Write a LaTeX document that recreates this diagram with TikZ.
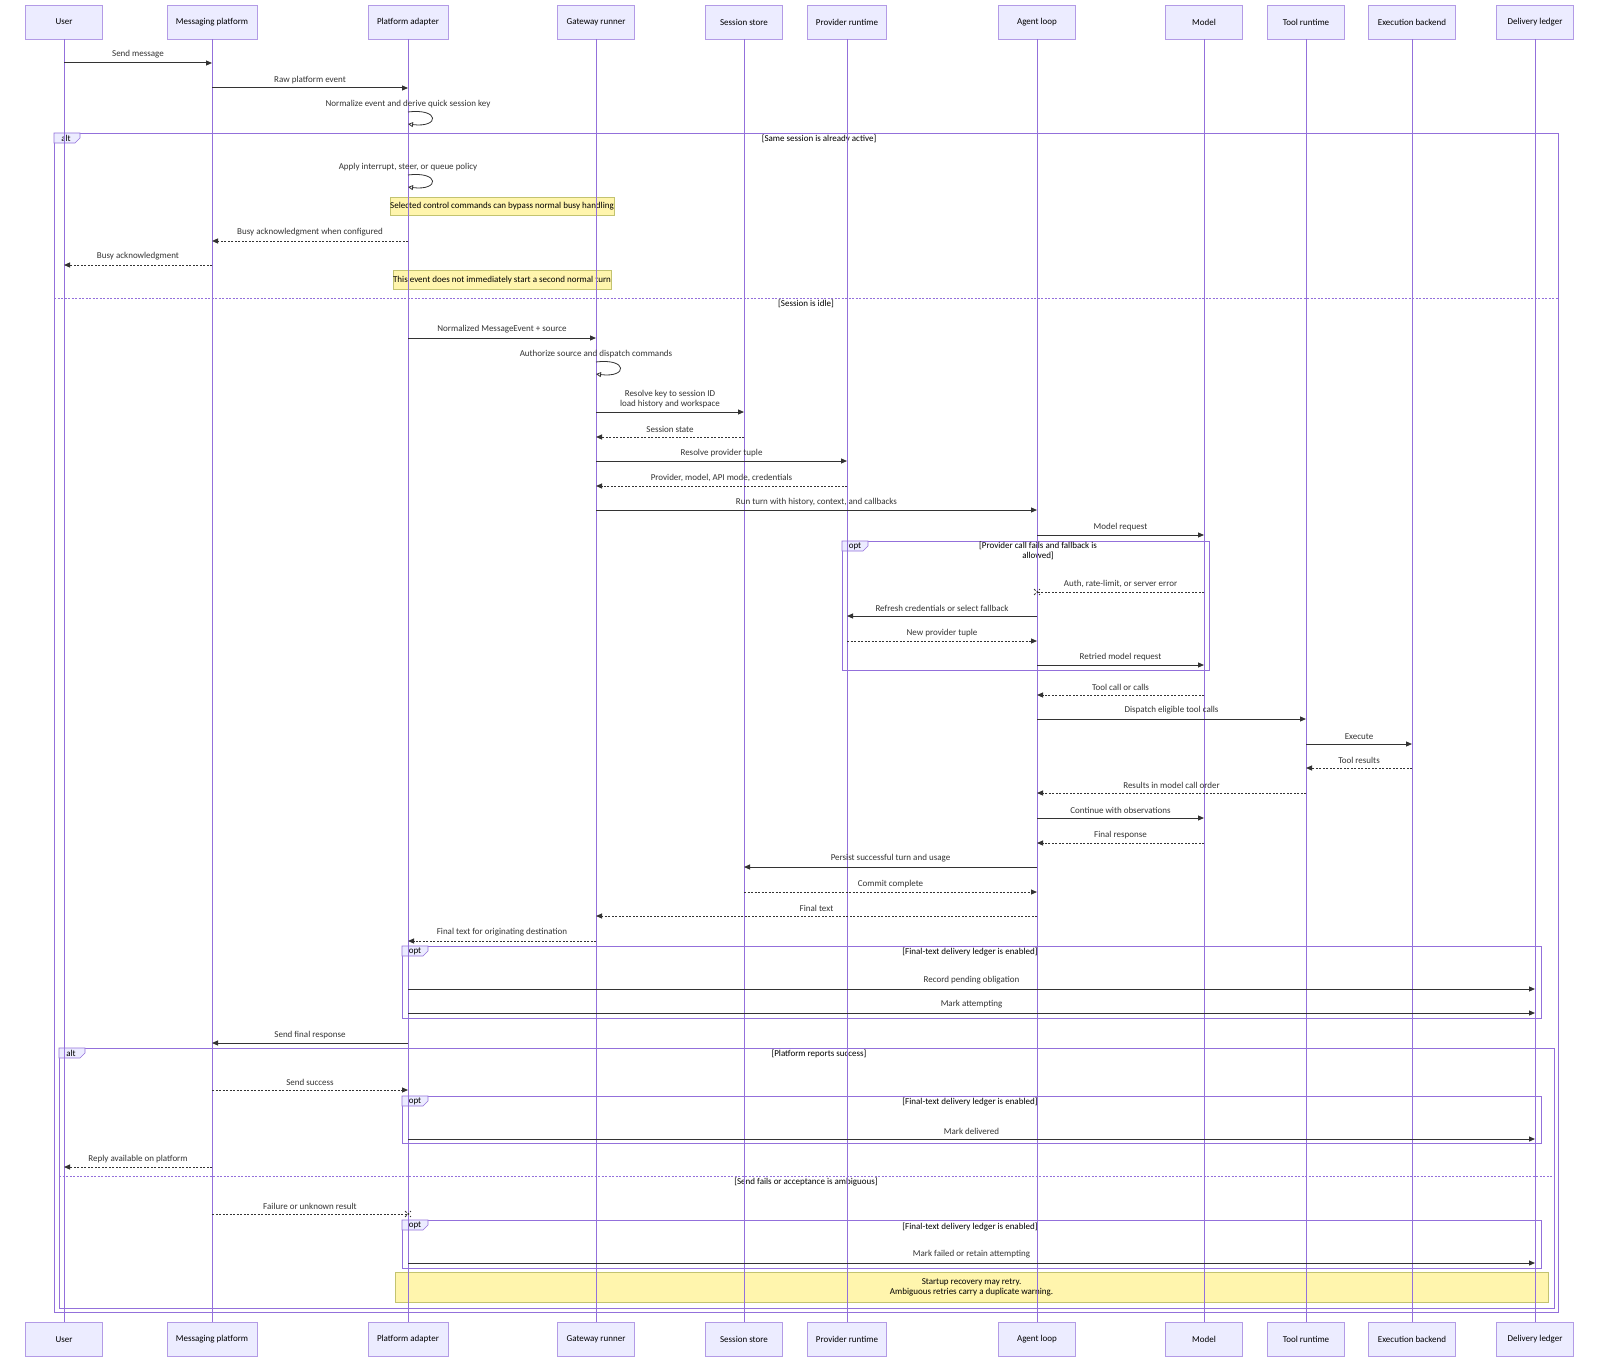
\documentclass[tikz,border=0pt]{standalone}
\usepackage{fontspec}
\setmainfont{Carlito}
\usetikzlibrary{arrows.meta,shapes.misc}
\definecolor{lifeclr}{HTML}{9370DB}
\definecolor{actfill}{HTML}{ECECFF}
\definecolor{notefill}{HTML}{FFF5AD}
\definecolor{notedraw}{HTML}{AAAA33}
\definecolor{msgclr}{HTML}{333333}

\begin{document}
\begin{tikzpicture}[x=1pt,y=-1pt,
    actor/.style={draw=lifeclr!70, fill=actfill, minimum height=34pt, inner sep=0pt, font=\fontsize{9}{10}\selectfont},
    life/.style={draw=lifeclr, line width=0.9pt},
    msg/.style={draw=msgclr, line width=1pt, -{Triangle[length=6pt,width=5pt]}},
    rep/.style={msg, dash pattern=on 2pt off 1.5pt},
    repx/.style={draw=msgclr, line width=1pt, dash pattern=on 2pt off 1.5pt},
    xmark/.style={cross out, draw=msgclr, line width=0.8pt, minimum size=5pt, inner sep=0pt},
    selfl/.style={draw=msgclr, line width=0.8pt, -{Triangle[open,length=5pt,width=5pt]}},
    lbl/.style={above=3pt, inner sep=1pt, text=msgclr, font=\fontsize{9}{10}\selectfont, align=center},
    frame/.style={draw=lifeclr, line width=0.8pt},
    elsel/.style={draw=lifeclr, line width=0.8pt, dash pattern=on 2pt off 1.5pt},
    tag/.style={draw=lifeclr, fill=actfill, line width=0.6pt},
    tagtxt/.style={inner sep=0pt, font=\fontsize{9}{10}\selectfont},
    cond/.style={inner sep=0pt, align=center, font=\fontsize{9}{9.5}\selectfont},
    note/.style={draw=notedraw!70, fill=notefill, inner sep=0pt, align=center, font=\fontsize{9}{10}\selectfont}]

  \useasboundingbox (0,0) rectangle (1600,1362);

  % participants, top and bottom
  \node[actor, minimum width=77pt] (user) at (64,22) {User};
  \node[actor, minimum width=90pt] (mplat) at (212,22) {Messaging platform};
  \node[actor, minimum width=80pt] (adapt) at (408,22) {Platform adapter};
  \node[actor, minimum width=77pt] (gate) at (596,22) {Gateway runner};
  \node[actor, minimum width=77pt] (store) at (744,22) {Session store};
  \node[actor, minimum width=79pt] (prov) at (847,22) {Provider runtime};
  \node[actor, minimum width=77pt] (agent) at (1037,22) {Agent loop};
  \node[actor, minimum width=77pt] (model) at (1204,22) {Model};
  \node[actor, minimum width=77pt] (tool) at (1306,22) {Tool runtime};
  \node[actor, minimum width=87pt] (exec) at (1412,22) {Execution backend};
  \node[actor, minimum width=77pt] (ledger) at (1535,22) {Delivery ledger};

  \node[actor, minimum width=77pt] (userB) at (64,1339.5) {User};
  \node[actor, minimum width=90pt] (mplatB) at (212,1339.5) {Messaging platform};
  \node[actor, minimum width=80pt] (adaptB) at (408,1339.5) {Platform adapter};
  \node[actor, minimum width=77pt] (gateB) at (596,1339.5) {Gateway runner};
  \node[actor, minimum width=77pt] (storeB) at (744,1339.5) {Session store};
  \node[actor, minimum width=79pt] (provB) at (847,1339.5) {Provider runtime};
  \node[actor, minimum width=77pt] (agentB) at (1037,1339.5) {Agent loop};
  \node[actor, minimum width=77pt] (modelB) at (1204,1339.5) {Model};
  \node[actor, minimum width=77pt] (toolB) at (1306,1339.5) {Tool runtime};
  \node[actor, minimum width=87pt] (execB) at (1412,1339.5) {Execution backend};
  \node[actor, minimum width=77pt] (ledgerB) at (1535,1339.5) {Delivery ledger};

  % notes
  \node[note, minimum width=214pt, minimum height=18pt] (n1) at (502,206) {Selected control commands can bypass normal busy handling};
  \node[note, minimum width=214pt, minimum height=19pt] (n2) at (502,280) {This event does not immediately start a second normal turn};
  \node[note, minimum width=1153pt, minimum height=30pt] (n3) at (971.5,1287) {Startup recovery may retry.\\Ambiguous retries carry a duplicate warning.};

  % frames
  \draw[frame] (54,133) rectangle (1558,1312);
  \draw[tag] (54,133) -- (80,133) -- (80,138) -- (75,143) -- (54,143) -- cycle;
  \node[tagtxt] (t1) at (66,138) {alt};
  \node[cond] (c1) at (819,139) {[Same session is already active]};
  \draw[elsel] (54,298) -- (1558,298);
  \node[cond] (c2) at (806,304) {[Session is idle]};

  \draw[frame] (842,541) rectangle (1209,670);
  \draw[tag] (842,541) -- (868,541) -- (868,546) -- (863,551) -- (842,551) -- cycle;
  \node[tagtxt] (t2) at (855,546) {opt};
  \node[cond] (c3) at (1038,551) {[Provider call fails and fallback is\\allowed]};

  \draw[frame] (402,946) rectangle (1541,1018);
  \draw[tag] (402,946) -- (428,946) -- (428,951) -- (423,956) -- (402,956) -- cycle;
  \node[tagtxt] (t3) at (415,951) {opt};
  \node[cond] (c4) at (970,952) {[Final-text delivery ledger is enabled]};

  \draw[frame] (59,1048) rectangle (1554,1308);
  \draw[tag] (59,1048) -- (85,1048) -- (85,1053) -- (80,1058) -- (59,1058) -- cycle;
  \node[tagtxt] (t4) at (71,1053) {alt};
  \node[cond] (c5) at (819,1054) {[Platform reports success]};
  \draw[elsel] (59,1176) -- (1554,1176);
  \node[cond] (c6) at (806,1182) {[Send fails or acceptance is ambiguous]};

  \draw[frame] (402,1096) rectangle (1541,1143);
  \draw[tag] (402,1096) -- (428,1096) -- (428,1101) -- (423,1106) -- (402,1106) -- cycle;
  \node[tagtxt] (t5) at (415,1101) {opt};
  \node[cond] (c7) at (970,1102) {[Final-text delivery ledger is enabled]};

  \draw[frame] (402,1220) rectangle (1541,1268);
  \draw[tag] (402,1220) -- (428,1220) -- (428,1225) -- (423,1230) -- (402,1230) -- cycle;
  \node[tagtxt] (t6) at (415,1225) {opt};
  \node[cond] (c8) at (970,1227) {[Final-text delivery ledger is enabled]};

  % lifelines
  \draw[life] (user.south) -- (userB.north);
  \draw[life] (mplat.south) -- (mplatB.north);
  \draw[life] (adapt.south) -- (adaptB.north);
  \draw[life] (gate.south) -- (gateB.north);
  \draw[life] (store.south) -- (storeB.north);
  \draw[life] (prov.south) -- (provB.north);
  \draw[life] (agent.south) -- (agentB.north);
  \draw[life] (model.south) -- (modelB.north);
  \draw[life] (tool.south) -- (toolB.north);
  \draw[life] (exec.south) -- (execB.north);
  \draw[life] (ledger.south) -- (ledgerB.north);

  % messages
  \draw[msg] (user |- 0,63) -- node[lbl] (m1) {Send message} (mplat |- 0,63);
  \draw[msg] (mplat |- 0,88) -- node[lbl] (m2) {Raw platform event} (adapt |- 0,88);
  \draw[selfl] (adapt |- 0,112) node[lbl] (m3) {Normalize event and derive quick session key} .. controls +(32,-4) and +(32,4) .. (adapt |- 0,124);
  \draw[selfl] (adapt |- 0,175) node[lbl] (m4) {Apply interrupt, steer, or queue policy} .. controls +(32,-4) and +(32,4) .. (adapt |- 0,187);
  \draw[rep] (adapt |- 0,241) -- node[lbl] (m5) {Busy acknowledgment when configured} (mplat |- 0,241);
  \draw[rep] (mplat |- 0,265) -- node[lbl] (m6) {Busy acknowledgment} (user |- 0,265);
  \draw[msg] (adapt |- 0,338) -- node[lbl] (m7) {Normalized MessageEvent + source} (gate |- 0,338);
  \draw[selfl] (gate |- 0,362) node[lbl] (m8) {Authorize source and dispatch commands} .. controls +(32,-4) and +(32,4) .. (gate |- 0,374);
  \draw[msg] (gate |- 0,412) -- node[lbl] (m9) {Resolve key to session ID\\load history and workspace} (store |- 0,412);
  \draw[rep] (store |- 0,437) -- node[lbl] (m10) {Session state} (gate |- 0,437);
  \draw[msg] (gate |- 0,461) -- node[lbl] (m11) {Resolve provider tuple} (prov |- 0,461);
  \draw[rep] (prov |- 0,486) -- node[lbl] (m12) {Provider, model, API mode, credentials} (gate |- 0,486);
  \draw[msg] (gate |- 0,510) -- node[lbl] (m13) {Run turn with history, context, and callbacks} (agent |- 0,510);
  \draw[msg] (agent |- 0,535) -- node[lbl] (m14) {Model request} (model |- 0,535);
  \draw[repx] (model |- 0,592) -- node[lbl] (m15) {Auth, rate-limit, or server error} (agent |- 0,592) node[xmark] (x1) {};
  \draw[msg] (agent |- 0,616) -- node[lbl] (m16) {Refresh credentials or select fallback} (prov |- 0,616);
  \draw[rep] (prov |- 0,641) -- node[lbl] (m17) {New provider tuple} (agent |- 0,641);
  \draw[msg] (agent |- 0,665) -- node[lbl] (m18) {Retried model request} (model |- 0,665);
  \draw[rep] (model |- 0,695) -- node[lbl] (m19) {Tool call or calls} (agent |- 0,695);
  \draw[msg] (agent |- 0,719) -- node[lbl] (m20) {Dispatch eligible tool calls} (tool |- 0,719);
  \draw[msg] (tool |- 0,744) -- node[lbl] (m21) {Execute} (exec |- 0,744);
  \draw[rep] (exec |- 0,768) -- node[lbl] (m22) {Tool results} (tool |- 0,768);
  \draw[rep] (tool |- 0,793) -- node[lbl] (m23) {Results in model call order} (agent |- 0,793);
  \draw[msg] (agent |- 0,818) -- node[lbl] (m24) {Continue with observations} (model |- 0,818);
  \draw[rep] (model |- 0,843) -- node[lbl] (m25) {Final response} (agent |- 0,843);
  \draw[msg] (agent |- 0,867) -- node[lbl] (m26) {Persist successful turn and usage} (store |- 0,867);
  \draw[rep] (store |- 0,892) -- node[lbl] (m27) {Commit complete} (agent |- 0,892);
  \draw[rep] (agent |- 0,916) -- node[lbl] (m28) {Final text} (gate |- 0,916);
  \draw[rep] (gate |- 0,941) -- node[lbl] (m29) {Final text for originating destination} (adapt |- 0,941);
  \draw[msg] (adapt |- 0,989) -- node[lbl] (m30) {Record pending obligation} (ledger |- 0,989);
  \draw[msg] (adapt |- 0,1013) -- node[lbl] (m31) {Mark attempting} (ledger |- 0,1013);
  \draw[msg] (adapt |- 0,1043) -- node[lbl] (m32) {Send final response} (mplat |- 0,1043);
  \draw[rep] (mplat |- 0,1090) -- node[lbl] (m33) {Send success} (adapt |- 0,1090);
  \draw[msg] (adapt |- 0,1139) -- node[lbl] (m34) {Mark delivered} (ledger |- 0,1139);
  \draw[rep] (mplat |- 0,1167) -- node[lbl] (m35) {Reply available on platform} (user |- 0,1167);
  \draw[repx] (mplat |- 0,1214) -- node[lbl] (m36) {Failure or unknown result} (adapt |- 0,1214) node[xmark] (x2) {};
  \draw[msg] (adapt |- 0,1263) -- node[lbl] (m37) {Mark failed or retain attempting} (ledger |- 0,1263);
\end{tikzpicture}
\end{document}
